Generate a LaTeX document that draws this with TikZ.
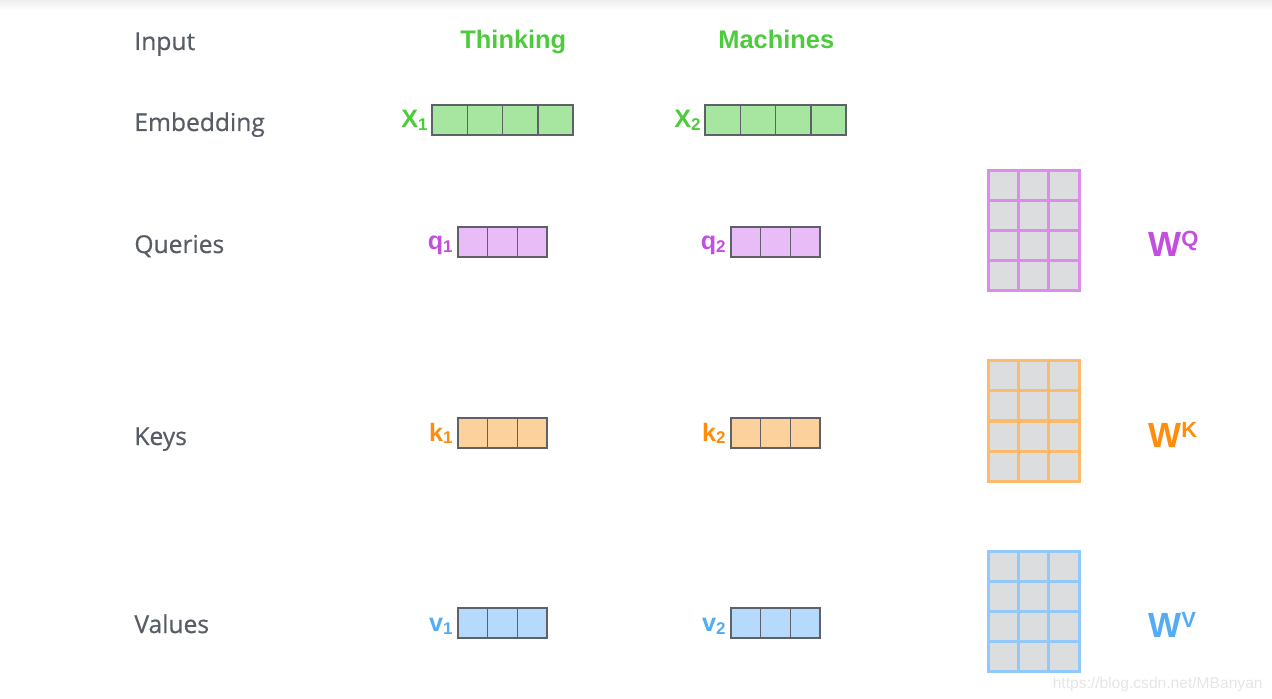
\documentclass[tikz,border=0pt]{standalone}
\usepackage{fontspec}
\setmainfont{Liberation Sans}
\newfontfamily\rowfont[RawFeature={embolden=0.6}]{Open Sans}
\definecolor{labelgray}{HTML}{575C66}
\definecolor{cellgray}{HTML}{5F6068}
\definecolor{matfill}{HTML}{DCDDDF}
\definecolor{greentext}{HTML}{4CCB3C}
\definecolor{greenfill}{HTML}{A6E6A0}
\definecolor{pinktext}{HTML}{C24FE0}
\definecolor{pinkfill}{HTML}{E8BCF6}
\definecolor{pinkmat}{HTML}{DC8DE9}
\definecolor{orangetext}{HTML}{FF8C0A}
\definecolor{orangefill}{HTML}{FDD19B}
\definecolor{orangemat}{HTML}{FBBA6C}
\definecolor{bluetext}{HTML}{55ACF5}
\definecolor{bluefill}{HTML}{B6DAFC}
\definecolor{bluemat}{HTML}{93C8FB}
\newcommand{\vsub}[1]{\raisebox{-1.5pt}{\fontsize{8.5}{9}\selectfont #1}}
\newcommand{\wsup}[1]{\raisebox{5pt}{\fontsize{11}{12}\selectfont #1}}
\tikzset{
  rowlabel/.style={anchor=base west, inner sep=0pt, text=labelgray, font=\rowfont\fontsize{12.3}{14}\selectfont},
  wordlabel/.style={anchor=base west, inner sep=0pt, text=greentext, font=\bfseries\fontsize{12.7}{15}\selectfont},
  veclabel/.style={anchor=base east, inner sep=0pt, font=\bfseries\fontsize{12.6}{15}\selectfont},
  wlabel/.style={anchor=base west, inner sep=0pt, font=\bfseries\fontsize{17.5}{20}\selectfont},
  cellline/.style={draw=cellgray, line width=0.75pt},
  matline/.style={line width=1.5pt},
}
\begin{document}
\begin{tikzpicture}[x=0.5pt, y=-0.5pt]
    \useasboundingbox (0,0) rectangle (1272,699);
    \shade[top color=black!7, bottom color=white] (0,0) rectangle (1272,10);
    % row names
    \node[rowlabel] (input) at (134,50) {Input};
    \node[rowlabel] (embedding) at (134,131) {Embedding};
    \node[rowlabel] (queries) at (134,253) {Queries};
    \node[rowlabel] (keys) at (134,445) {Keys};
    \node[rowlabel] (values) at (134,633) {Values};
    % input words
    \node[wordlabel] (thinking) at (460,49) {Thinking};
    \node[wordlabel] (machines) at (718,49) {Machines};
    % embeddings
    \foreach \bx in {432,705}
        \foreach \i in {0,...,3}
            \draw[cellline, fill=greenfill] (\bx+35.25*\i,105) rectangle ++(35.25,30);
    \node[veclabel, text=greentext] (x1) at (428,128) {X\vsub{1}};
    \node[veclabel, text=greentext] (x2) at (701,128) {X\vsub{2}};
    % queries, keys, values
    \foreach \bx/\by/\fc in {458/227/pinkfill, 731/227/pinkfill, 458/418/orangefill,
                             731/418/orangefill, 458/608/bluefill, 731/608/bluefill}
        \foreach \i in {0,1,2}
            \draw[cellline, fill=\fc] (\bx+29.67*\i,\by) rectangle ++(29.67,30);
    \node[veclabel, text=pinktext] (q1) at (453,250) {q\vsub{1}};
    \node[veclabel, text=pinktext] (q2) at (726,250) {q\vsub{2}};
    \node[veclabel, text=orangetext] (k1) at (453,441) {k\vsub{1}};
    \node[veclabel, text=orangetext] (k2) at (726,441) {k\vsub{2}};
    \node[veclabel, text=bluetext] (v1) at (453,631) {v\vsub{1}};
    \node[veclabel, text=bluetext] (v2) at (726,631) {v\vsub{2}};
    % weight matrices
    \foreach \by/\mc in {171/pinkmat, 361/orangemat, 551/bluemat} {
        \draw[matline, draw=\mc, fill=matfill] (988,\by) rectangle (1079,\by+120);
        \foreach \i in {1,2}
            \draw[matline, draw=\mc] (988+30.33*\i,\by) -- ++(0,120);
        \foreach \j in {1,2,3}
            \draw[matline, draw=\mc] (988,\by+30*\j) -- ++(91,0);
    }
    \node[wlabel, text=pinktext] (wq) at (1148,257) {W\wsup{Q}};
    \node[wlabel, text=orangetext] (wk) at (1148,447) {W\wsup{K}};
    \node[wlabel, text=bluetext] (wv) at (1148,637) {W\wsup{V}};
    % watermark
    \node[anchor=base east, inner sep=0pt, text=black!10, font=\fontsize{7.8}{9}\selectfont] (mark) at (1263,688) {https://blog.csdn.net/MBanyan};
\end{tikzpicture}
\end{document}
